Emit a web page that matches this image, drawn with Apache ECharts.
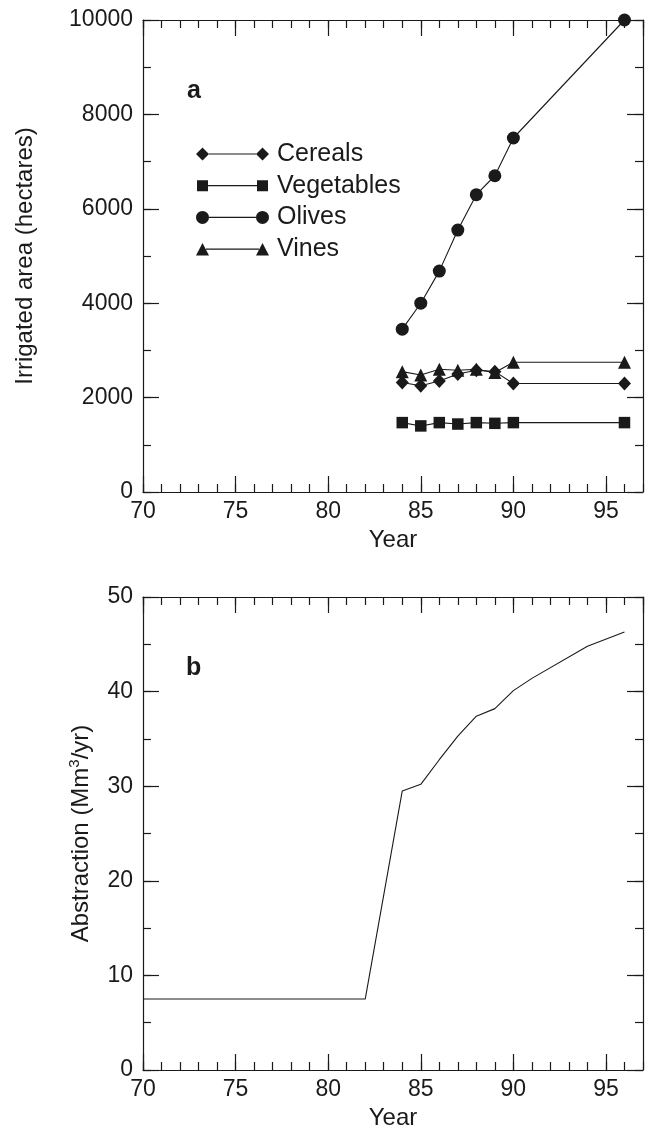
<!DOCTYPE html>
<html>
<head>
<meta charset="utf-8">
<script src="https://cdn.jsdelivr.net/npm/echarts@6/dist/echarts.min.js"></script>
<style>
html,body{margin:0;padding:0;background:#fff;}
#chart{width:645px;height:1131px;}
</style>
</head>
<body>
<div id="chart"></div>
<script>
// ---- data ----
const years = [84, 85, 86, 87, 88, 89, 90, 96];
const cereals = [2320, 2250, 2350, 2500, 2580, 2550, 2300, 2300];
const vegetables = [1470, 1400, 1470, 1440, 1470, 1455, 1470, 1470];
const olives = [3450, 4000, 4680, 5550, 6300, 6700, 7500, 10000];
const vines = [2550, 2480, 2600, 2580, 2600, 2530, 2750, 2750];

const absYears = [70, 82, 84, 85, 86, 87, 88, 89, 90, 91, 94, 96];
const abstraction = [7.5, 7.5, 29.5, 30.2, 32.8, 35.3, 37.4, 38.2, 40.1, 41.4, 44.8, 46.3];

const seriesNames = ['Cereals', 'Vegetables', 'Olives', 'Vines'];
const xAxisName = 'Year';
const yNameA = 'Irrigated area (hectares)';
const yNameB = 'Abstraction (Mm{sup|3}/yr)';

// ---- styling ----
const INK = '#1a1a1a';
const FONT = 'Liberation Sans';
const pairs = (xs, ys) => xs.map((x, i) => [x, ys[i]]);
const plain = v => String(v);

function xAxes(grid, showLabels, name) {
  const common = { type: 'value', gridIndex: grid, min: 70, max: 97, splitLine: { show: false } };
  return [
    Object.assign({}, common, {
      position: 'bottom', interval: 5,
      axisLine: { show: true, onZero: false, lineStyle: { color: INK, width: 1.2 } },
      axisTick: { show: true, inside: true, length: 16, lineStyle: { color: INK, width: 1.2 } },
      axisLabel: { show: showLabels, color: INK, fontSize: 23, fontFamily: FONT, margin: 8, showMaxLabel: false, formatter: plain },
      name: name, nameLocation: 'middle', nameGap: 36,
      nameTextStyle: { color: INK, fontSize: 24, fontFamily: FONT }
    }),
    Object.assign({}, common, {
      position: 'bottom', interval: 1,
      axisLine: { show: false, onZero: false },
      axisTick: { show: true, inside: true, length: 8, lineStyle: { color: INK, width: 1.2 } },
      axisLabel: { show: false }
    }),
    Object.assign({}, common, {
      position: 'top', interval: 5,
      axisLine: { show: true, onZero: false, lineStyle: { color: INK, width: 1.2 } },
      axisTick: { show: true, inside: true, length: 16, lineStyle: { color: INK, width: 1.2 } },
      axisLabel: { show: false }
    }),
    Object.assign({}, common, {
      position: 'top', interval: 1,
      axisLine: { show: false, onZero: false },
      axisTick: { show: true, inside: true, length: 8, lineStyle: { color: INK, width: 1.2 } },
      axisLabel: { show: false }
    })
  ];
}

function yAxes(grid, max, interval, name, nameGap) {
  const common = { type: 'value', gridIndex: grid, min: 0, max: max, splitLine: { show: false } };
  return [
    Object.assign({}, common, {
      position: 'left', interval: interval,
      axisLine: { show: true, onZero: false, lineStyle: { color: INK, width: 1.2 } },
      axisTick: { show: true, inside: true, length: 16, lineStyle: { color: INK, width: 1.2 } },
      axisLabel: { show: true, color: INK, fontSize: 23, fontFamily: FONT, margin: 10, formatter: plain },
      name: name, nameLocation: 'middle', nameGap: nameGap,
      nameTextStyle: {
        color: INK, fontSize: 24, fontFamily: FONT, lineHeight: 28,
        rich: { sup: { fontSize: 15, fontFamily: FONT, color: INK, verticalAlign: 'top', lineHeight: 14 } }
      }
    }),
    Object.assign({}, common, {
      position: 'left', interval: interval / 2,
      axisLine: { show: false, onZero: false },
      axisTick: { show: true, inside: true, length: 8, lineStyle: { color: INK, width: 1.2 } },
      axisLabel: { show: false }
    }),
    Object.assign({}, common, {
      position: 'right', interval: interval,
      axisLine: { show: true, onZero: false, lineStyle: { color: INK, width: 1.2 } },
      axisTick: { show: true, inside: true, length: 16, lineStyle: { color: INK, width: 1.2 } },
      axisLabel: { show: false }
    }),
    Object.assign({}, common, {
      position: 'right', interval: interval / 2,
      axisLine: { show: false, onZero: false },
      axisTick: { show: true, inside: true, length: 8, lineStyle: { color: INK, width: 1.2 } },
      axisLabel: { show: false }
    })
  ];
}

const seg = (a, b) => ` M${a},6.4 L${b},6.4 L${b},7.6 L${a},7.6 Z `;
const CORNERS = ' M0,0 L0,0.01 Z M73,14 L73,13.99 Z';
const icons = {
  Cereals: 'path://M0,7 L6.5,0.5 L13,7 L6.5,13.5 Z' + seg(13, 60) + 'M60,7 L66.5,0.5 L73,7 L66.5,13.5 Z' + CORNERS,
  Vegetables: 'path://M1,1.5 L12,1.5 L12,12.5 L1,12.5 Z' + seg(12, 61) + 'M61,1.5 L72,1.5 L72,12.5 L61,12.5 Z' + CORNERS,
  Olives: 'path://M0,7 A6.5,6.5 0 1,0 13,7 A6.5,6.5 0 1,0 0,7 Z' + seg(13, 60) + 'M60,7 A6.5,6.5 0 1,0 73,7 A6.5,6.5 0 1,0 60,7 Z' + CORNERS,
  Vines: 'path://M0,13.5 L6.5,1 L13,13.5 Z' + seg(10, 63) + 'M60,13.5 L66.5,1 L73,13.5 Z' + CORNERS
};
const symbols = { Cereals: 'diamond', Vegetables: 'rect', Olives: 'circle', Vines: 'triangle' };
const sizes = { Cereals: [13, 14], Vegetables: 11.5, Olives: 13, Vines: 13 };
const values = { Cereals: cereals, Vegetables: vegetables, Olives: olives, Vines: vines };

const seriesA = seriesNames.map(n => ({
  name: n, type: 'line', xAxisIndex: 0, yAxisIndex: 0,
  data: pairs(years, values[n]),
  symbol: symbols[n], symbolSize: sizes[n], showSymbol: true,
  itemStyle: { color: INK },
  lineStyle: { color: INK, width: 1.1 },
  animation: false
}));

const seriesB = {
  name: 'Abstraction', type: 'line', xAxisIndex: 4, yAxisIndex: 4,
  data: pairs(absYears, abstraction),
  showSymbol: false, symbol: 'none',
  lineStyle: { color: INK, width: 1.1 },
  animation: false
};

const option = {
  backgroundColor: '#fff',
  animation: false,
  grid: [
    { left: 143, right: 2, top: 20, bottom: 639, containLabel: false },
    { left: 143, right: 2, top: 597, bottom: 61, containLabel: false }
  ],
  xAxis: xAxes(0, true, xAxisName).concat(xAxes(1, true, xAxisName)),
  yAxis: yAxes(0, 10000, 2000, yNameA, 104).concat(yAxes(1, 50, 10, yNameB, 48)),
  legend: {
    orient: 'vertical', left: 196, top: 141, padding: 0,
    itemWidth: 73, itemHeight: 14, itemGap: 5.7,
    textStyle: { color: INK, fontSize: 25, fontFamily: FONT, lineHeight: 26, padding: [0, 0, 0, 3] },
    data: seriesNames.map(n => ({ name: n, icon: icons[n] })),
    selectedMode: false
  },
  graphic: [
    { type: 'text', left: 187, top: 79, style: { text: 'a', font: 'bold 25px "Liberation Sans"', fill: INK } },
    { type: 'text', left: 186, top: 656, style: { text: 'b', font: 'bold 25px "Liberation Sans"', fill: INK } }
  ],
  series: seriesA.concat([seriesB])
};

const chart = echarts.init(document.getElementById('chart'), null, { renderer: 'canvas' });
chart.setOption(option);
</script>
</body>
</html>
